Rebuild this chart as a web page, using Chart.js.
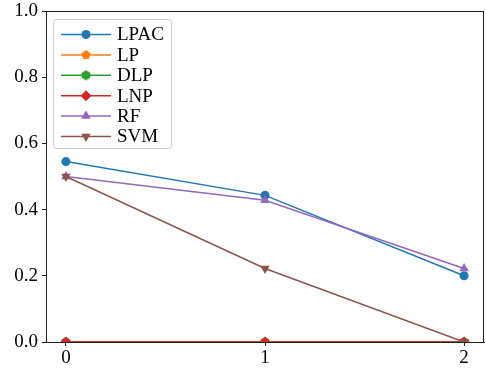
<!DOCTYPE html>
<html>
<head>
<meta charset="utf-8">
<script src="https://cdn.jsdelivr.net/npm/chart.js@4/dist/chart.umd.min.js"></script>
<style>
  html, body { margin: 0; padding: 0; background: #fff; }
  #wrap { width: 486px; height: 368px; }
</style>
</head>
<body>
<div id="wrap"><canvas id="out" width="486" height="368"></canvas></div>
<script>
const xVals = [0, 1, 2];
const seriesNames = ["LPAC", "LP", "DLP", "LNP", "RF", "SVM"];
const lpac = [0.545, 0.443, 0.2];
const lp = [0, 0, 0];
const dlp = [0, 0, 0];
const lnp = [0, 0, 0];
const rf = [0.5, 0.428, 0.222];
const svm = [0.5, 0.222, 0.0];
const yTicks = [0, 0.2, 0.4, 0.6, 0.8, 1.0];

const FONT = "'Liberation Serif', 'Times New Roman', serif";

// polygon marker drawn into a small canvas (pentagon / hexagon)
function polyMarker(color, sides, r) {
  const size = Math.ceil(r * 2 + 2);
  const c = document.createElement("canvas");
  c.width = size;
  c.height = size;
  const g = c.getContext("2d");
  g.fillStyle = color;
  g.beginPath();
  for (let i = 0; i < sides; i++) {
    const a = -Math.PI / 2 + i * 2 * Math.PI / sides;
    const px = size / 2 + r * Math.cos(a);
    const py = size / 2 + r * Math.sin(a);
    if (i === 0) g.moveTo(px, py); else g.lineTo(px, py);
  }
  g.closePath();
  g.fill();
  return c;
}

const colors = ["#1f77b4", "#ff7f0e", "#2ca02c", "#d62728", "#9467bd", "#8c564b"];
const styles = [
  { pointStyle: "circle", radius: 4.5, rotation: 0 },
  { pointStyle: polyMarker(colors[1], 5, 5), radius: 4.5, rotation: 0 },
  { pointStyle: polyMarker(colors[2], 6, 5), radius: 4.5, rotation: 0 },
  { pointStyle: "rectRot", radius: 5.5, rotation: 0 },
  { pointStyle: "triangle", radius: 5.5, rotation: 0 },
  { pointStyle: "triangle", radius: 5.5, rotation: 180 }
];
const values = [lpac, lp, dlp, lnp, rf, svm];

const datasets = seriesNames.map((name, i) => ({
  label: name,
  data: xVals.map((x, j) => ({ x: x, y: values[i][j] })),
  borderColor: colors[i],
  backgroundColor: colors[i],
  borderWidth: 1.5,
  pointStyle: styles[i].pointStyle,
  pointRadius: styles[i].radius,
  pointHoverRadius: styles[i].radius,
  pointRotation: styles[i].rotation,
  pointBorderWidth: 0,
  order: seriesNames.length - i,   // later series drawn on top, like matplotlib
  clip: 0,
  tension: 0
}));

// frame around the plot area and a matplotlib-like legend inside it
const framePlugin = {
  id: "frame",
  afterDatasetsDraw(chart) {
    const ctx = chart.ctx;
    const a = chart.chartArea;
    ctx.save();
    ctx.strokeStyle = "#222";
    ctx.lineWidth = 1;
    ctx.strokeRect(a.left + 0.5, a.top + 0.5, a.right - a.left - 1, a.bottom - a.top);

    // legend
    const bx = a.left + 7, by = a.top + 8, bw = 118, bh = 129;
    ctx.fillStyle = "rgba(255,255,255,0.8)";
    ctx.strokeStyle = "#cccccc";
    ctx.beginPath();
    ctx.roundRect(bx + 0.5, by + 0.5, bw, bh, 3);
    ctx.fill();
    ctx.stroke();
    ctx.font = "19px " + FONT;
    ctx.textBaseline = "middle";
    chart.data.datasets.forEach((ds, i) => {
      const y = by + 15.5 + i * 20.4;
      ctx.strokeStyle = ds.borderColor;
      ctx.lineWidth = 1.5;
      ctx.beginPath();
      ctx.moveTo(bx + 8, y);
      ctx.lineTo(bx + 58, y);
      ctx.stroke();
      ctx.fillStyle = ds.backgroundColor;
      Chart.helpers.drawPoint(ctx, {
        pointStyle: ds.pointStyle,
        radius: ds.pointRadius,
        rotation: ds.pointRotation,
        borderWidth: 0
      }, bx + 33, y);
      ctx.fillStyle = "#000";
      ctx.fillText(ds.label, bx + 64, y + 1);
    });
    ctx.restore();
  }
};

const chartConfig = {
  type: "line",
  data: { datasets: datasets },
  options: {
    responsive: false,
    animation: false,
    // no automatic room for point overflow, the markers get clipped like matplotlib
    layout: { autoPadding: false, padding: { left: 0, right: 2, top: 11, bottom: 0 } },
    plugins: { legend: { display: false }, tooltip: { enabled: false } },
    scales: {
      x: {
        type: "linear",
        min: -0.1,
        max: 2.1,
        afterBuildTicks(axis) { axis.ticks = xVals.map(v => ({ value: v })); },
        afterFit(axis) {
          axis.height = 26;
          axis.paddingLeft = 0;
          axis.paddingRight = 0;
        },
        grid: { drawOnChartArea: false, tickLength: 4, color: "#222" },
        border: { color: "#222", width: 1 },
        ticks: {
          color: "#000",
          padding: 1,
          maxRotation: 0,
          font: { family: FONT, size: 19 },
          callback: v => String(v)
        }
      },
      y: {
        min: 0,
        max: 1,
        afterBuildTicks(axis) { axis.ticks = yTicks.map(v => ({ value: v })); },
        afterFit(axis) {
          axis.width = 46;
          axis.paddingTop = 0;
          axis.paddingBottom = 0;
        },
        grid: { drawOnChartArea: false, tickLength: 4, color: "#222" },
        border: { color: "#222", width: 1 },
        ticks: {
          color: "#000",
          padding: 4,
          font: { family: FONT, size: 19 },
          callback: v => v.toFixed(1)
        }
      }
    }
  },
  plugins: [framePlugin]
};

window.chart = new Chart(document.getElementById("out").getContext("2d"), chartConfig);
</script>
</body>
</html>
